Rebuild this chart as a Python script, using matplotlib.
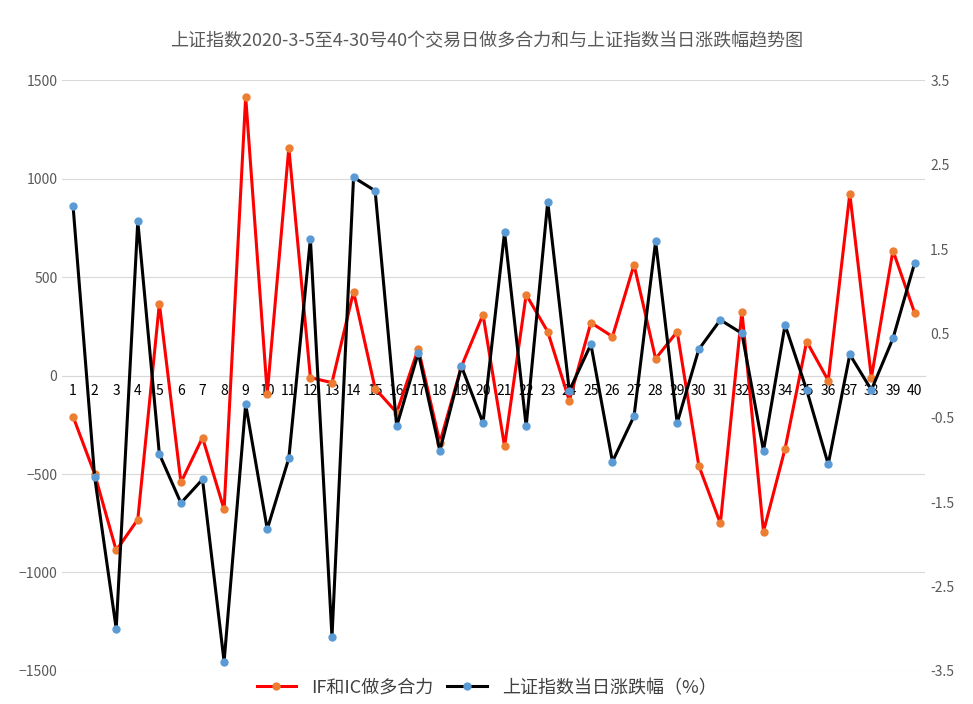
import numpy as np
import matplotlib.pyplot as plt

plt.rcParams['font.family'] = ['Noto Sans CJK SC', 'DejaVu Sans']

days = list(range(1, 41))
force = [-208, -500, -888, -731, 365, -543, -315, -680, 1416, -91,
         1157, -10, -36, 426, -66, -188, 137, -340, 46, 310,
         -360, 411, 223, -127, 269, 198, 563, 86, 223, -457,
         -751, 325, -792, -371, 173, -25, 924, -10, 635, 320]
change = [2.01, -1.20, -3.00, 1.83, -0.93, -1.51, -1.23, -3.39, -0.34, -1.82,
          -0.98, 1.62, -3.10, 2.35, 2.19, -0.60, 0.27, -0.89, 0.11, -0.56,
          1.70, -0.60, 2.06, -0.18, 0.37, -1.02, -0.48, 1.59, -0.56, 0.31,
          0.66, 0.50, -0.89, 0.60, -0.17, -1.05, 0.25, -0.17, 0.44, 1.33]

fig = plt.figure(figsize=(9.73, 7.04), dpi=100)
ax = fig.add_axes([0.064, 0.047, 0.887, 0.839])
ax2 = ax.twinx()

ax.plot(days, force, color='#FF0000', lw=2.2, marker='o', ms=5,
        mfc='#ED7D31', mec='#ED7D31', label='IF和IC做多合力', zorder=3)
ax2.plot(days, change, color='black', lw=2.2, marker='o', ms=5,
         mfc='#5B9BD5', mec='#5B9BD5', label='上证指数当日涨跌幅（%）', zorder=4)

ax.set_ylim(-1500, 1500)
ax.set_yticks(range(-1500, 1501, 500))
ax2.set_ylim(-3.5, 3.5)
ax2.set_yticks([-3.5, -2.5, -1.5, -0.5, 0.5, 1.5, 2.5, 3.5])
ax.set_xlim(0.5, 40.5)
ax.set_xticks(days)
ax.set_xticklabels([str(d) for d in days], fontsize=6.5, color='#595959')
ax.tick_params(axis='x', length=0, pad=6)
ax.spines['bottom'].set_position(('data', 0))
ax.spines['bottom'].set_color('#D9D9D9')
for s in ['top', 'left', 'right']:
    ax.spines[s].set_visible(False)
    ax2.spines[s].set_visible(False)
ax2.spines['bottom'].set_visible(False)
ax.grid(axis='y', color='#D9D9D9', lw=0.8)
ax.set_axisbelow(True)
ax.tick_params(axis='y', length=0, labelsize=10, labelcolor='#595959')
ax2.tick_params(axis='y', length=0, labelsize=10, labelcolor='#595959')
ax2.set_yticklabels(['-3.5', '-2.5', '-1.5', '-0.5', '0.5', '1.5', '2.5', '3.5'])

fig.suptitle('上证指数2020-3-5至4-30号40个交易日做多合力和与上证指数当日涨跌幅趋势图',
             y=0.955, fontsize=13, color='#595959')
h1, l1 = ax.get_legend_handles_labels()
h2, l2 = ax2.get_legend_handles_labels()
fig.legend(h1 + h2, l1 + l2, loc='center', bbox_to_anchor=(0.5, 0.023), ncol=2,
           frameon=False, fontsize=13, labelcolor='#404040', handlelength=2.2,
           columnspacing=0.8)

fig.savefig('out.png')
